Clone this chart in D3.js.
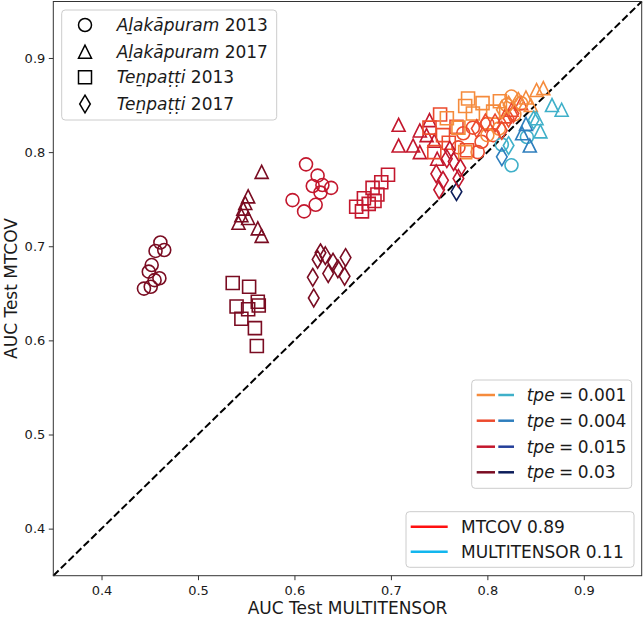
<!DOCTYPE html>
<html><head><meta charset="utf-8">
<script src="https://cdn.jsdelivr.net/npm/d3@7"></script>
<style>body{margin:0;background:#fff}text{font-family:"DejaVu Sans",sans-serif;fill:#1a1a1a}</style>
</head><body><svg id="c" width="644" height="618"></svg>
<script>
// ---------- data ----------
const tpeLabels = ["0.001", "0.004", "0.015", "0.03"];
const mtcovColors = ["#f58b3c", "#ec4a2d", "#c3172d", "#7a0c22"];
const multitensorColors = ["#3fb0c9", "#2e7ebd", "#243f99", "#0c1d5a"];
const datasetPlaces = ["Aḻakāpuram", "Aḻakāpuram", "Teṉpaṭṭi", "Teṉpaṭṭi"];
const datasetYears = ["2013", "2017", "2013", "2017"];
const datasetShapes = ["circle", "triangle", "square", "diamond"];
const methodLabels = ["MTCOV 0.89", "MULTITENSOR 0.11"];
const methodColors = ["#ff1010", "#12b6ee"];
const xTicks = [0.4, 0.5, 0.6, 0.7, 0.8, 0.9];
const yTicks = [0.4, 0.5, 0.6, 0.7, 0.8, 0.9];
const axisDomain = [0.35, 0.96];

// each point: [tpe index, AUC MULTITENSOR, AUC MTCOV]
const alakapuram2013 = [
  [3,0.461,0.704],[3,0.465,0.696],[3,0.456,0.695],[3,0.452,0.680],[3,0.449,0.673],[3,0.460,0.666],[3,0.455,0.664],[3,0.444,0.655],[3,0.451,0.657],
  [2,0.612,0.787],[2,0.624,0.775],[2,0.619,0.764],[2,0.629,0.765],[2,0.638,0.762],[2,0.598,0.749],[2,0.610,0.737],[2,0.622,0.744],[2,0.627,0.757],
  [1,0.794,0.811],[1,0.775,0.820],[1,0.785,0.826],[1,0.800,0.830],[1,0.770,0.805],[1,0.790,0.800],[1,0.806,0.818],
  [0,0.825,0.859],[0,0.820,0.850],[0,0.812,0.825],[0,0.800,0.818],[0,0.828,0.840],[0,0.815,0.808],[0,0.835,0.852],[0,0.825,0.786],[0,0.841,0.816]
];
const alakapuram2017 = [
  [3,0.566,0.779],[3,0.552,0.753],[3,0.549,0.746],[3,0.545,0.733],[3,0.542,0.725],[3,0.562,0.719],[3,0.566,0.711],[3,0.552,0.730],[3,0.547,0.740],
  [2,0.708,0.829],[2,0.708,0.807],[2,0.730,0.823],[2,0.723,0.807],[2,0.740,0.834],[2,0.730,0.800],[2,0.748,0.793],[2,0.745,0.812],[2,0.737,0.818],
  [1,0.825,0.845],[1,0.835,0.852],[1,0.818,0.838],[1,0.836,0.820],[1,0.844,0.807],[1,0.840,0.830],
  [0,0.851,0.866],[0,0.858,0.868],[0,0.845,0.850],[0,0.840,0.858],[0,0.867,0.850],[0,0.877,0.845],[0,0.855,0.822],[0,0.851,0.836]
];
const tenpatti2013 = [
  [3,0.536,0.661],[3,0.553,0.657],[3,0.562,0.641],[3,0.563,0.637],[3,0.540,0.636],[3,0.545,0.623],[3,0.552,0.633],[3,0.559,0.613],[3,0.561,0.594],
  [2,0.697,0.776],[2,0.690,0.768],[2,0.681,0.762],[2,0.686,0.755],[2,0.672,0.751],[2,0.677,0.745],[2,0.664,0.742],[2,0.670,0.737],[2,0.683,0.748],
  [1,0.751,0.840],[1,0.768,0.827],[1,0.754,0.818],[1,0.779,0.802],[1,0.740,0.826],[1,0.760,0.810],[1,0.745,0.800],
  [0,0.780,0.857],[0,0.777,0.849],[0,0.813,0.854],[0,0.758,0.836],[0,0.806,0.843],[0,0.785,0.841],[0,0.777,0.800],[0,0.795,0.852],[0,0.770,0.826]
];
const tenpatti2017 = [
  [3,0.627,0.693],[3,0.632,0.690],[3,0.624,0.686],[3,0.640,0.683],[3,0.653,0.688],[3,0.619,0.667],[3,0.635,0.671],[3,0.645,0.676],[3,0.652,0.668],[3,0.620,0.645],[3,0.768,0.758],
  [2,0.761,0.802],[2,0.758,0.793],[2,0.747,0.777],[2,0.772,0.783],[2,0.754,0.770],[2,0.765,0.790],[2,0.750,0.760],[2,0.770,0.772],
  [1,0.789,0.825],[1,0.798,0.831],[1,0.808,0.831],[1,0.815,0.823],[1,0.822,0.836],[1,0.827,0.841],[1,0.815,0.795],
  [0,0.832,0.854],[0,0.815,0.845],[0,0.822,0.850],[0,0.822,0.807],[0,0.848,0.834]
];
const datasets = [alakapuram2013, alakapuram2017, tenpatti2013, tenpatti2017];

// ---------- layout ----------
const svg = d3.select("#c");
const x = d3.scaleLinear().domain(axisDomain).range([53.3, 641.7]);
const y = d3.scaleLinear().domain(axisDomain).range([575.7, 1.5]);

function markerPath(shape, s) {
  const p = d3.path();
  if (shape === "circle") { p.moveTo(s / 2, 0); p.arc(0, 0, s / 2, 0, 2 * Math.PI); }
  else if (shape === "square") { p.rect(-s / 2, -s / 2, s, s); }
  else if (shape === "triangle") { p.moveTo(0, -s / 2); p.lineTo(-s / 2, s / 2); p.lineTo(s / 2, s / 2); p.closePath(); }
  else { const h = s * 0.68, w = h * 0.6; p.moveTo(0, -h); p.lineTo(w, 0); p.lineTo(0, h); p.lineTo(-w, 0); p.closePath(); }
  return p.toString();
}
const ms = 13;

// diagonal
svg.append("line")
  .attr("x1", x(axisDomain[0])).attr("y1", y(axisDomain[0]))
  .attr("x2", x(axisDomain[1])).attr("y2", y(axisDomain[1]))
  .attr("stroke", "#000").attr("stroke-width", 2).attr("stroke-dasharray", "7.4,3.2");

// points
datasets.forEach((data, di) => {
  svg.append("g").selectAll("path").data(data).join("path")
    .attr("transform", d => `translate(${x(d[1])},${y(d[2])})`)
    .attr("d", markerPath(datasetShapes[di], ms))
    .attr("fill", "none")
    .attr("stroke-width", 1.6)
    .attr("stroke", d => d[2] >= d[1] ? mtcovColors[d[0]] : multitensorColors[d[0]]);
});

// frame
svg.append("rect").attr("x", x.range()[0]).attr("y", y.range()[1])
  .attr("width", x.range()[1] - x.range()[0]).attr("height", y.range()[0] - y.range()[1])
  .attr("fill", "none").attr("stroke", "#333").attr("stroke-width", 1);

// axes
const gx = svg.append("g").attr("transform", `translate(0,${y.range()[0]})`)
  .call(d3.axisBottom(x).tickValues(xTicks).tickFormat(d3.format(".1f")).tickSize(4.5).tickPadding(6));
const gy = svg.append("g").attr("transform", `translate(${x.range()[0]},0)`)
  .call(d3.axisLeft(y).tickValues(yTicks).tickFormat(d3.format(".1f")).tickSize(4.5).tickPadding(3.5));
[gx, gy].forEach(g => {
  g.select(".domain").remove();
  g.selectAll("line").attr("stroke", "#333");
  g.selectAll("text").attr("font-size", 13).attr("font-family", "DejaVu Sans").attr("fill", "#222");
});

svg.append("text").attr("x", 347.5).attr("y", 614).attr("text-anchor", "middle")
  .attr("font-size", 17).text("AUC Test MULTITENSOR");
svg.append("text").attr("transform", "translate(17,288.5) rotate(-90)").attr("text-anchor", "middle")
  .attr("font-size", 17).text("AUC Test MTCOV");

// legend boxes
function box(x0, y0, w, h) {
  svg.append("rect").attr("x", x0).attr("y", y0).attr("width", w).attr("height", h)
    .attr("rx", 3.5).attr("fill", "#fff").attr("fill-opacity", 0.8).attr("stroke", "#cccccc").attr("stroke-width", 1);
}

// dataset legend
box(61.7, 10, 215, 110);
const rowsA = [25, 51.7, 77.3, 104];
datasetShapes.forEach((s, i) => {
  svg.append("path").attr("transform", `translate(85,${rowsA[i]})`).attr("d", markerPath(s, ms))
    .attr("fill", "none").attr("stroke", "#000").attr("stroke-width", 1.5);
  const t = svg.append("text").attr("x", 116.7).attr("y", rowsA[i] + 6).attr("font-size", 17);
  t.append("tspan").attr("font-style", "italic").text(datasetPlaces[i]);
  t.append("tspan").text(" " + datasetYears[i]);
});

// tpe legend
box(471.7, 380, 160, 108.3);
const rowsB = [395, 420.7, 446.7, 472.3];
tpeLabels.forEach((lab, i) => {
  svg.append("line").attr("x1", 476.7).attr("x2", 495).attr("y1", rowsB[i]).attr("y2", rowsB[i])
    .attr("stroke", mtcovColors[i]).attr("stroke-width", 2.5);
  svg.append("line").attr("x1", 498.3).attr("x2", 514).attr("y1", rowsB[i]).attr("y2", rowsB[i])
    .attr("stroke", multitensorColors[i]).attr("stroke-width", 2.5);
  const t = svg.append("text").attr("x", 526.7).attr("y", rowsB[i] + 6).attr("font-size", 17);
  t.append("tspan").attr("font-style", "italic").text("tpe");
  t.append("tspan").attr("dx", -1).text(" = ");
  t.append("tspan").attr("dx", -1).text(lab);
});

// method legend
box(406, 511.7, 228, 55.6);
const rowsC = [526.7, 551.7];
methodLabels.forEach((lab, i) => {
  svg.append("line").attr("x1", 410.7).attr("x2", 447.7).attr("y1", rowsC[i]).attr("y2", rowsC[i])
    .attr("stroke", methodColors[i]).attr("stroke-width", 2.5);
  svg.append("text").attr("x", 461).attr("y", rowsC[i] + 6).attr("font-size", 17).text(lab);
});
</script></body></html>
